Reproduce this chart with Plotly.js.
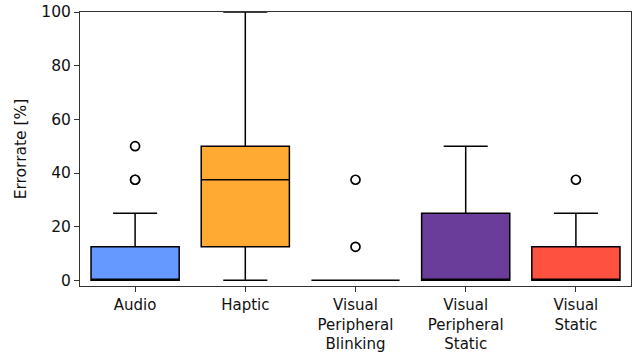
<!DOCTYPE html>
<html>
<head>
<meta charset="utf-8">
<script src="https://cdn.plot.ly/plotly-3.0.1.min.js"></script>
<style>
  html, body { margin: 0; padding: 0; background: #fff; }
  #chart { width: 632px; height: 352px; }
</style>
</head>
<body>
<div id="chart"></div>
<script>
// Error rate per feedback condition (box statistics, in %)
const categories = ["Audio", "Haptic", "Visual<br>Peripheral<br>Blinking", "Visual<br>Peripheral<br>Static", "Visual<br>Static"];
const lowerWhisker = [0, 0, 0, 0, 0];
const q1Values     = [0, 12.5, 0, 0, 0];
const medianValues = [0, 37.5, 0, 0, 0];
const q3Values     = [12.5, 50, 0, 25, 12.5];
const upperWhisker = [25, 100, 0, 50, 25];
const outliers     = [[37.5, 37.5, 50], [], [12.5, 37.5], [], [37.5]];
const boxColors    = ["#6699FF", "#FFAA33", "#FFFFFF", "#6A3D9A", "#FF5140"];

const family = "DejaVu Sans, sans-serif";
const textColor = "#111";

const traces = [];
categories.forEach((cat, i) => {
  traces.push({
    type: "box",
    x: [cat],
    q1: [q1Values[i]],
    median: [medianValues[i]],
    q3: [q3Values[i]],
    lowerfence: [lowerWhisker[i]],
    upperfence: [upperWhisker[i]],
    width: 0.8,
    whiskerwidth: 0.5,
    fillcolor: boxColors[i],
    line: { color: "#000", width: 1.5 },
    boxpoints: false,
    hoverinfo: "skip",
    showlegend: false
  });
});
categories.forEach((cat, i) => {
  if (!outliers[i].length) return;
  traces.push({
    type: "scatter",
    mode: "markers",
    x: outliers[i].map(() => cat),
    y: outliers[i],
    marker: { symbol: "circle", size: 9, color: "#fff", line: { color: "#000", width: 1.7 } },
    cliponaxis: false,
    hoverinfo: "skip",
    showlegend: false
  });
});

const layout = {
  width: 632,
  height: 352,
  margin: { l: 80, r: 1, t: 12, b: 66 },
  paper_bgcolor: "#fff",
  plot_bgcolor: "#fff",
  font: { family: family, size: 15, color: textColor },
  boxmode: "overlay",
  showlegend: false,
  xaxis: {
    type: "category",
    categoryorder: "array",
    categoryarray: categories,
    range: [-0.5, 4.5],
    showgrid: false,
    zeroline: false,
    showline: true,
    mirror: true,
    linecolor: "#333",
    linewidth: 1,
    ticks: "outside",
    ticklen: 5,
    tickwidth: 1,
    tickcolor: "#333",
    tickfont: { family: family, size: 15, color: textColor }
  },
  yaxis: {
    range: [-2.1, 100],
    tickvals: [0, 20, 40, 60, 80, 100],
    showgrid: false,
    zeroline: false,
    showline: true,
    mirror: true,
    linecolor: "#333",
    linewidth: 1,
    ticks: "outside",
    ticklen: 5,
    tickwidth: 1,
    tickcolor: "#333",
    tickfont: { family: family, size: 15.5, color: textColor },
    title: { text: "Errorrate [%]", font: { family: family, size: 15.5, color: textColor }, standoff: 10 }
  }
};

Plotly.newPlot("chart", traces, layout, { displayModeBar: false, staticPlot: true });
</script>
</body>
</html>
